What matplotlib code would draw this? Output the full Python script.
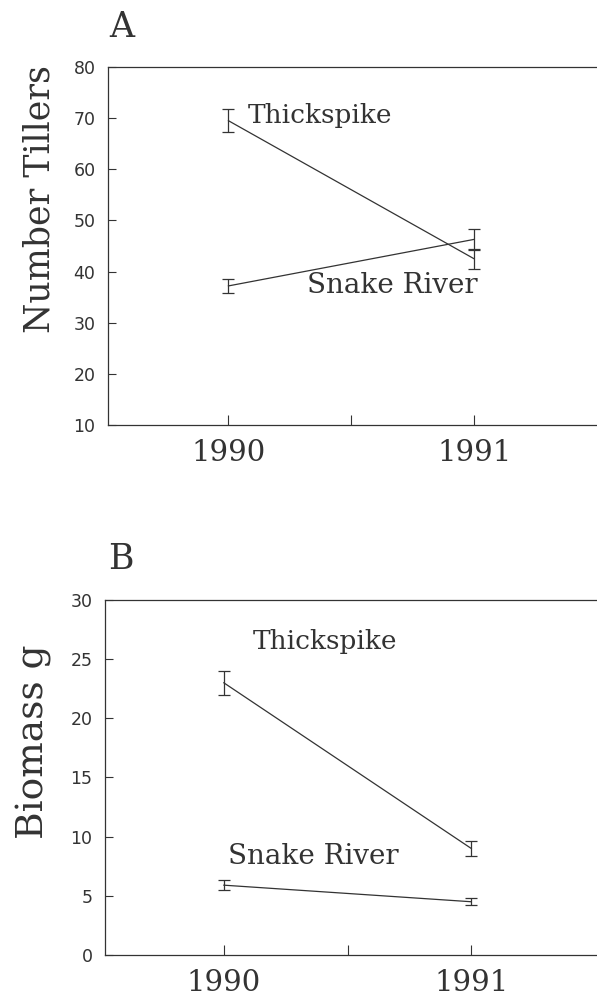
import matplotlib
matplotlib.use('Agg')
import matplotlib.pyplot as plt

# ---- data ----
years = [1990, 1991]

tillers_thick = [69.5, 42.5]
tillers_thick_err = [2.3, 1.9]
tillers_snake = [37.2, 46.3]
tillers_snake_err = [1.3, 2.0]

biomass_thick = [23.0, 9.0]
biomass_thick_err = [1.0, 0.6]
biomass_snake = [5.9, 4.5]
biomass_snake_err = [0.4, 0.3]

tillers_yticks = [10, 20, 30, 40, 50, 60, 70, 80]
biomass_yticks = [0, 5, 10, 15, 20, 25, 30]
xticks = [1990, 1990.5, 1991]
xticklabels = ['1990', '', '1991']

INK = '#333333'
SERIF = 'DejaVu Serif'


def style_axes(ax, yticks, ylim, xlim):
    ax.set_xlim(*xlim)
    ax.set_ylim(*ylim)
    ax.set_yticks(yticks)
    ax.set_xticks(xticks)
    ax.set_xticklabels(xticklabels, family=SERIF, fontsize=21, color=INK)
    ax.tick_params(axis='y', direction='in', length=6, width=0.8,
                   labelsize=12.5, labelcolor=INK, color=INK, pad=9)
    ax.tick_params(axis='x', direction='in', length=7, width=0.8,
                   color=INK, pad=10)
    ax.spines['right'].set_visible(False)
    for s in ('left', 'top', 'bottom'):
        ax.spines[s].set_linewidth(0.9)
        ax.spines[s].set_color(INK)


def draw_series(ax, y, err):
    ax.errorbar(years, y, yerr=err, color=INK, linewidth=0.9,
                elinewidth=0.9, capsize=4, capthick=0.9)


fig = plt.figure(figsize=(5.97, 10.06), dpi=100)

# Panel A: tillers
axA = fig.add_axes([0.181, 0.5775, 0.819, 0.3559])
draw_series(axA, tillers_thick, tillers_thick_err)
draw_series(axA, tillers_snake, tillers_snake_err)
style_axes(axA, tillers_yticks, (10, 80), (1989.51, 1991.5))
axA.text(-0.14, 0.63, 'Number Tillers', transform=axA.transAxes,
         rotation=90, family=SERIF, fontsize=25, color=INK,
         ha='center', va='center')
axA.text(1990.077, 70.6, 'Thickspike', family=SERIF, fontsize=19,
         color=INK, va='center', ha='left')
axA.text(1990.32, 37.3, 'Snake River', family=SERIF, fontsize=20,
         color=INK, va='center', ha='left')
fig.text(0.183, 0.9632, 'A', family=SERIF, fontsize=25, color=INK,
         va='baseline', ha='left')

# Panel B: biomass
axB = fig.add_axes([0.176, 0.0507, 0.824, 0.3529])
draw_series(axB, biomass_thick, biomass_thick_err)
draw_series(axB, biomass_snake, biomass_snake_err)
style_axes(axB, biomass_yticks, (0, 30), (1989.52, 1991.508))
axB.text(-0.145, 0.60, 'Biomass g', transform=axB.transAxes,
         rotation=90, family=SERIF, fontsize=27, color=INK,
         ha='center', va='center')
axB.text(1990.117, 26.5, 'Thickspike', family=SERIF, fontsize=19,
         color=INK, va='center', ha='left')
axB.text(1990.016, 8.3, 'Snake River', family=SERIF, fontsize=20,
         color=INK, va='center', ha='left')
fig.text(0.181, 0.4344, 'B', family=SERIF, fontsize=25, color=INK,
         va='baseline', ha='left')

fig.savefig('out.png', dpi=100)
